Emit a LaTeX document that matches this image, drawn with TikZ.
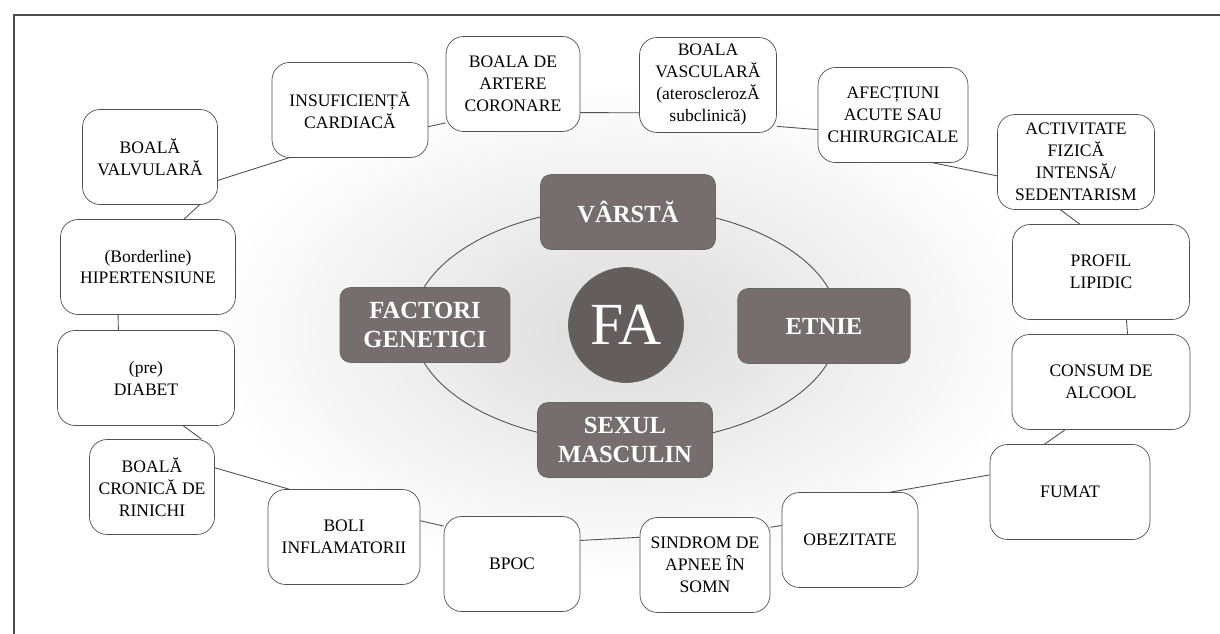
\documentclass[tikz,border=0pt]{standalone}
\usepackage{fontspec}
\setmainfont{Liberation Serif}
\definecolor{corefill}{RGB}{118,110,110}
\definecolor{fafill}{RGB}{100,93,93}
\definecolor{rim}{RGB}{80,80,80}
\begin{document}
\begin{tikzpicture}[x=0.02cm,y=-0.02cm,
  risk/.style={draw=rim,fill=white,rounded corners=10pt,minimum height=1.9cm,
    align=center,inner sep=2pt,font=\fontsize{10}{12.5}\selectfont},
  core/.style={draw=black!60,fill=corefill,rounded corners=6pt,minimum width=3.5cm,
    minimum height=1.5cm,align=center,text=white,font=\fontsize{14}{16}\selectfont\bfseries},
  link/.style={draw=rim,line width=.5pt}]
  \useasboundingbox (0,0) rectangle (1220,634);

  %% frame and glow
  \draw[black!70,line width=.8pt] (14,634) -- (14,15) -- (1220,15);
  \shade[inner color=black!14,outer color=white] (626,330) ellipse [x radius=8.4cm,y radius=5cm];
  \draw[rim,line width=.5pt] (626,325) ellipse [x radius=4.26cm,y radius=2.36cm];

  %% inner factors
  \node (fa) at (626,325) [circle,draw=black!60,fill=fafill,minimum size=2.3cm,
    text=white,font=\fontsize{34}{34}\selectfont] {FA};
  \node (var) at (628,212) [core] {VÂRSTĂ};
  \node (gen) at (425,325) [core,minimum width=3.4cm] {FACTORI\\GENETICI};
  \node (etn) at (824,326) [core,minimum width=3.45cm] {ETNIE};
  \node (sex) at (625,440) [core] {SEXUL\\MASCULIN};

  %% outer ring, top
  \node (ins) at (350,110) [risk,minimum width=3.12cm] {INSUFICIENȚĂ\\CARDIACĂ};
  \node (cor) at (513,84) [risk,minimum width=2.68cm] {BOALA DE\\ARTERE\\CORONARE};
  \node (vas) at (708,85) [risk,minimum width=2.74cm] {BOALA\\VASCULARĂ\\(aterosclerozĂ\\subclinică)};
  \node (afe) at (893,115) [risk,minimum width=3cm] {AFECȚIUNI\\ACUTE SAU\\CHIRURGICALE};
  \node (act) at (1076,162) [risk,minimum width=3.14cm] {ACTIVITATE\\FIZICĂ\\INTENSĂ/\\SEDENTARISM};

  %% outer ring, right
  \node (pro) at (1101,272) [risk,minimum width=3.54cm] {PROFIL\\LIPIDIC};
  \node (con) at (1101,382) [risk,minimum width=3.56cm] {CONSUM DE\\ALCOOL};
  \node (fum) at (1070,492) [risk,minimum width=3.2cm] {FUMAT};

  %% outer ring, bottom
  \node (obe) at (850,540) [risk,minimum width=2.72cm] {OBEZITATE};
  \node (sin) at (705,565) [risk,minimum width=2.6cm] {SINDROM DE\\APNEE ÎN\\SOMN};
  \node (bpo) at (512,564) [risk,minimum width=2.72cm] {BPOC};
  \node (inf) at (344,537) [risk,minimum width=3.04cm] {BOLI\\INFLAMATORII};

  %% outer ring, left
  \node (rin) at (152,487) [risk,minimum width=2.5cm] {BOALĂ\\CRONICĂ DE\\RINICHI};
  \node (dia) at (146,378) [risk,minimum width=3.54cm] {(pre)\\DIABET};
  \node (hip) at (148,267) [risk,minimum width=3.5cm] {(Borderline)\\HIPERTENSIUNE};
  \node (val) at (150,157) [risk,minimum width=2.7cm] {BOALĂ\\VALVULARĂ};

  %% ring links
  \draw[link] (val.-19) -- (ins.-142);
  \draw[link] (ins.-12) -- (cor.210);
  \draw[link] (cor.-23) -- (vas.202);
  \draw[link] (vas.-31) -- (afe.191);
  \draw[link] (afe.-50) -- (act.190);
  \draw[link] (act.-108) -- (pro.114);
  \draw[link] (pro.-62) -- (con.61);
  \draw[link] (con.-127) -- (fum.118);
  \draw[link] (fum.168) -- (obe.50);
  \draw[link] (obe.168) -- (sin.30);
  \draw[link] (sin.157) -- (bpo.19);
  \draw[link] (bpo.151) -- (inf.12);
  \draw[link] (inf.139) -- (rin.17);
  \draw[link] (rin.44) -- (dia.-52);
  \draw[link] (dia.120) -- (hip.-122);
  \draw[link] (hip.53) -- (val.-44);
\end{tikzpicture}
\end{document}
